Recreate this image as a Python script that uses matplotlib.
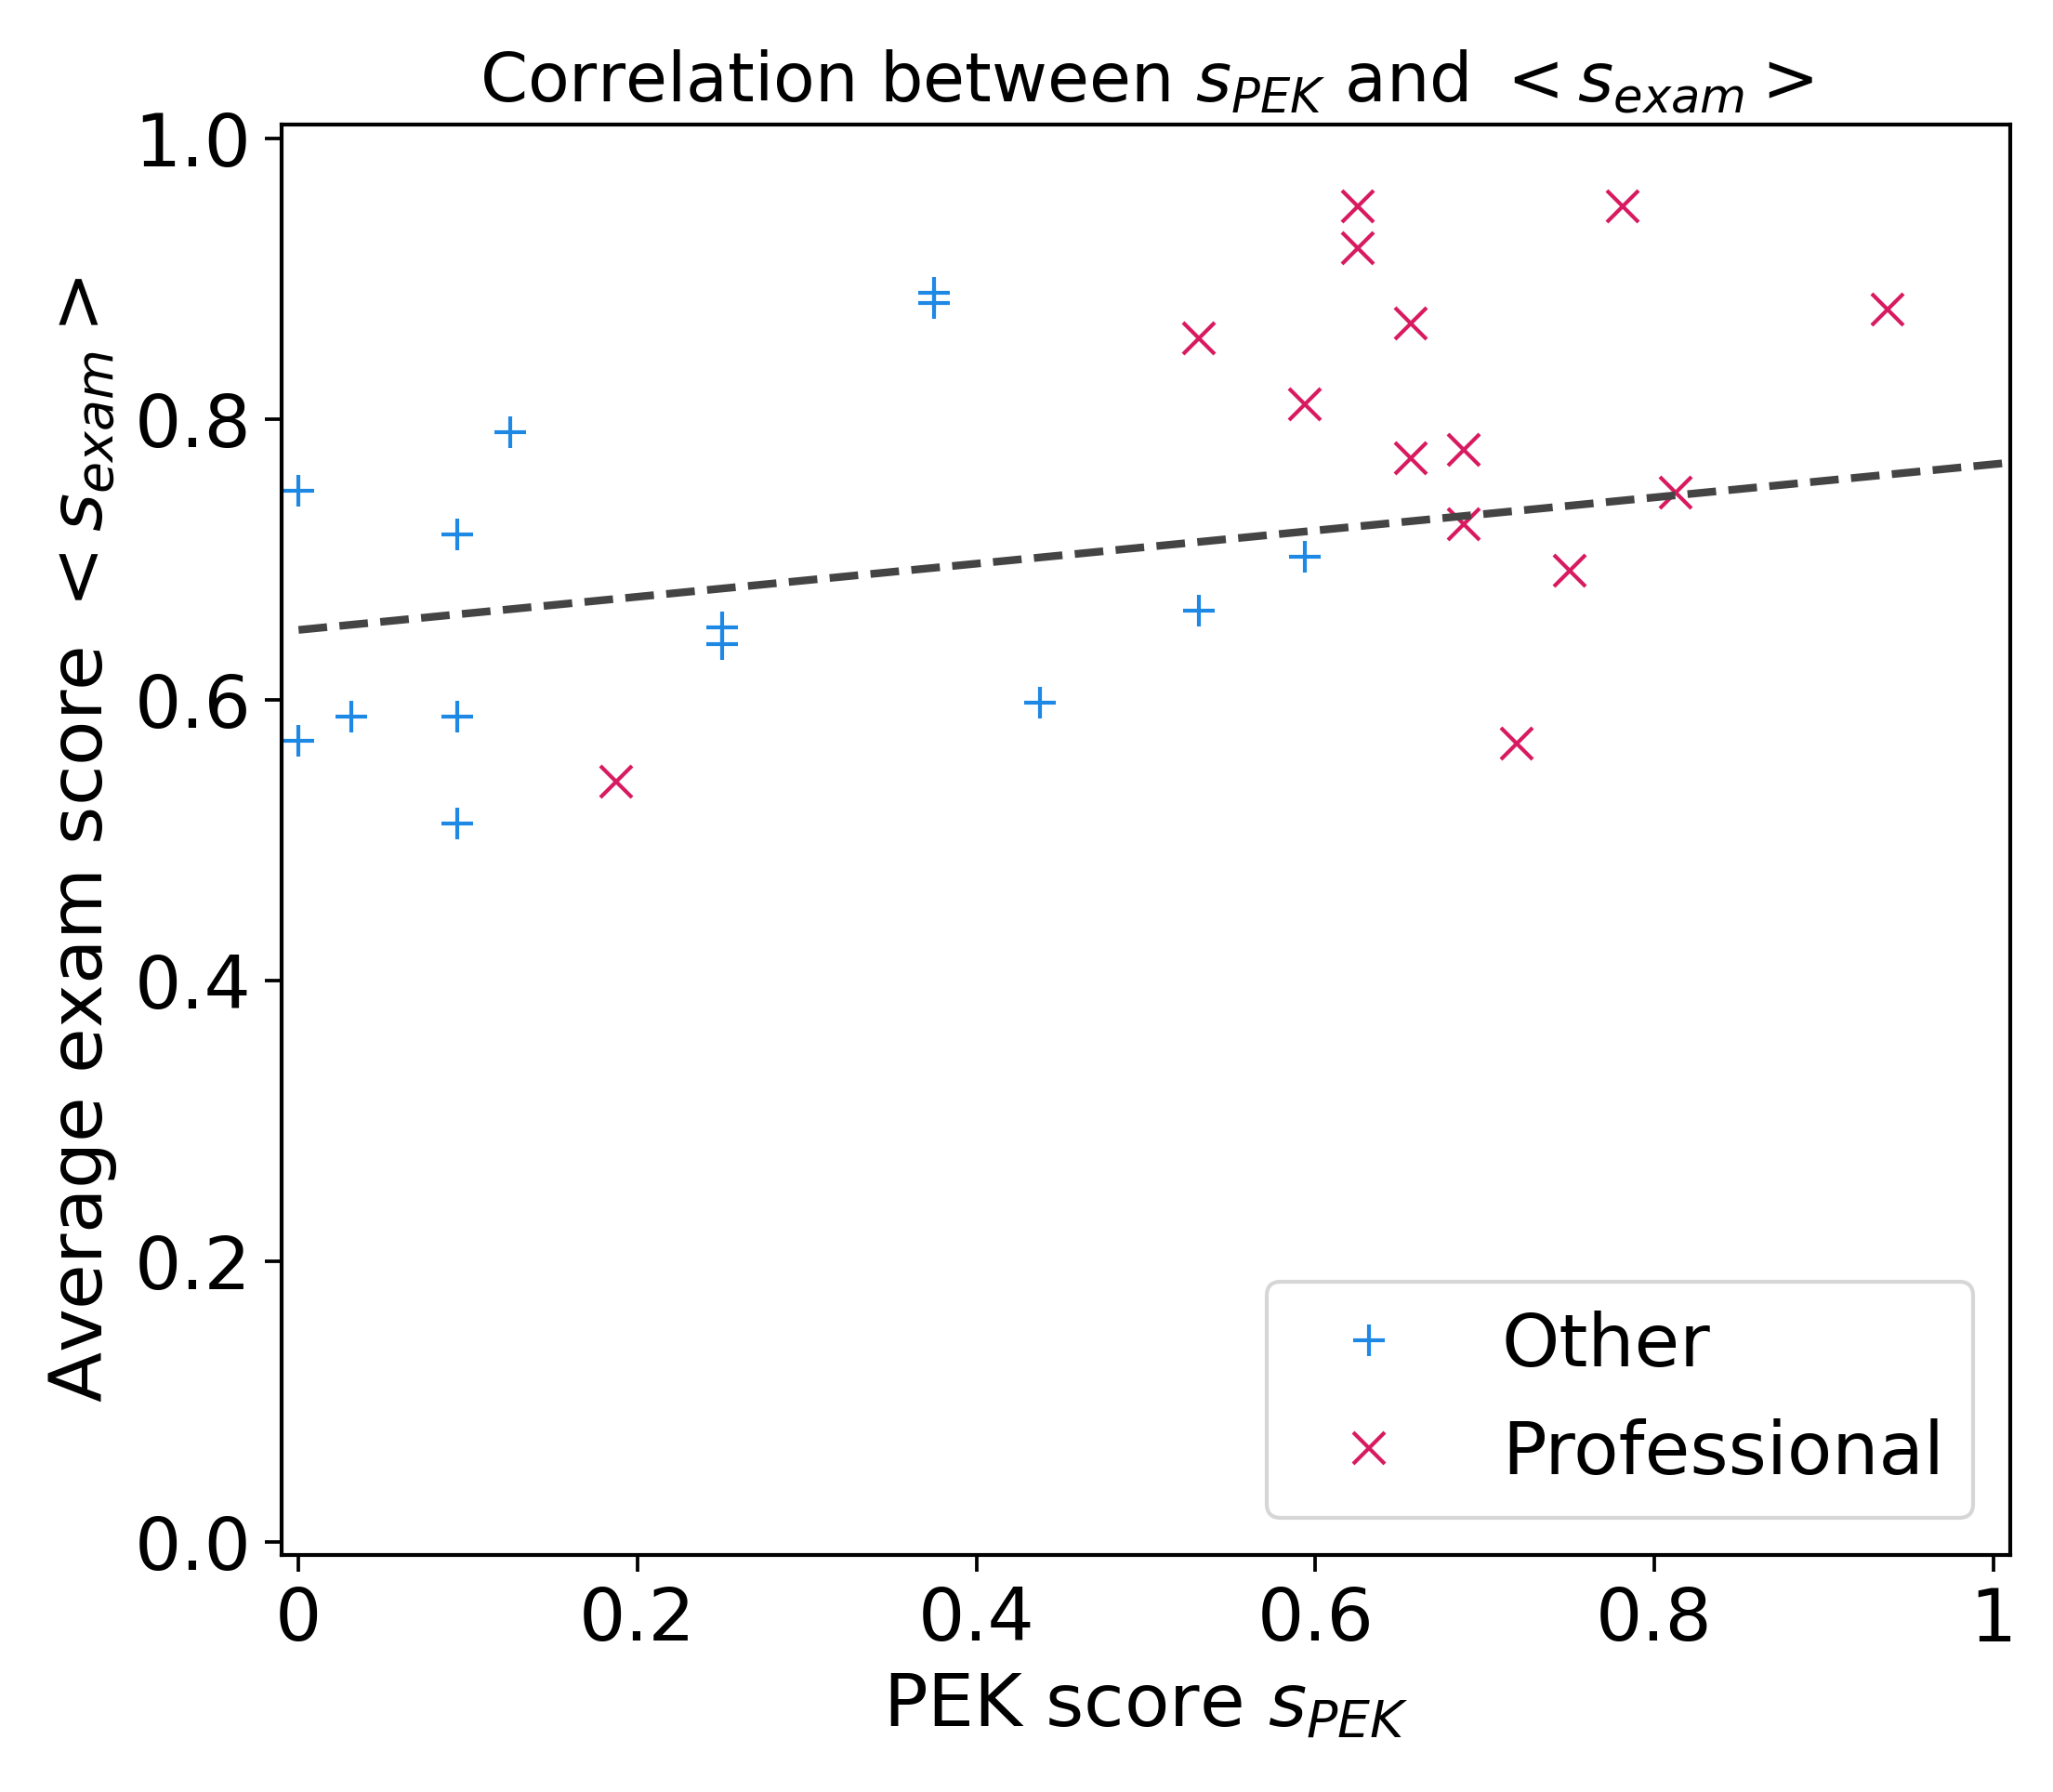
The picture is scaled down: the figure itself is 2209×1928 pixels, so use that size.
import numpy as np
import matplotlib
matplotlib.use('Agg')
import matplotlib.pyplot as plt

# PEK score vs average exam score
other_x = [0, 0, 1/32, 3/32, 3/32, 3/32, 4/32, 8/32, 8/32, 12/32, 12/32, 14/32, 17/32, 19/32]
other_y = [0.749, 0.571, 0.588, 0.718, 0.588, 0.512, 0.791, 0.652, 0.640, 0.890, 0.883, 0.598, 0.664, 0.702]

prof_x = [6/32, 17/32, 19/32, 20/32, 20/32, 21/32, 21/32, 22/32, 22/32, 23/32, 24/32, 25/32, 26/32, 30/32]
prof_y = [0.542, 0.858, 0.811, 0.952, 0.922, 0.868, 0.772, 0.778, 0.725, 0.569, 0.692, 0.952, 0.748, 0.878]

fit_intercept = 0.650
fit_slope = 0.118

xticks = [0, 0.2, 0.4, 0.6, 0.8, 1]
xticklabels = ['0', '0.2', '0.4', '0.6', '0.8', '1']
yticks = [0.0, 0.2, 0.4, 0.6, 0.8, 1.0]
yticklabels = ['0.0', '0.2', '0.4', '0.6', '0.8', '1.0']

plt.rcParams['font.size'] = 19
plt.rcParams['axes.linewidth'] = 1.0

fig = plt.figure(figsize=(2209/300, 1928/300), dpi=300)
ax = fig.add_axes([303/2209, 1 - 1673/1928, (2163-303)/2209, (1673-134)/1928])

ax.plot(other_x, other_y, '+', color='#1E88E5', markersize=8, markeredgewidth=1.0, label='Other')
ax.plot(prof_x, prof_y, 'x', color='#D81B60', markersize=8, markeredgewidth=1.0, label='Professional')

xf = np.array([0, 1.05])
ax.plot(xf, fit_intercept + fit_slope*xf, '--', color='#444444', linewidth=2)

ax.set_xlim(-0.01, 1.01)
ax.set_ylim(-0.009, 1.01)
ax.set_xticks(xticks)
ax.set_xticklabels(xticklabels)
ax.set_yticks(yticks)
ax.set_yticklabels(yticklabels)
ax.tick_params(length=4.3, width=0.9)

ax.set_title(r'Correlation between $s_{PEK}$ and $<s_{exam}>$', fontsize=17.6)
ax.set_xlabel(r'PEK score $s_{PEK}$')
ax.set_ylabel(r'Average exam score $<s_{exam}>$')
ax.legend(loc='lower right')

fig.savefig('out.png', dpi=300)
